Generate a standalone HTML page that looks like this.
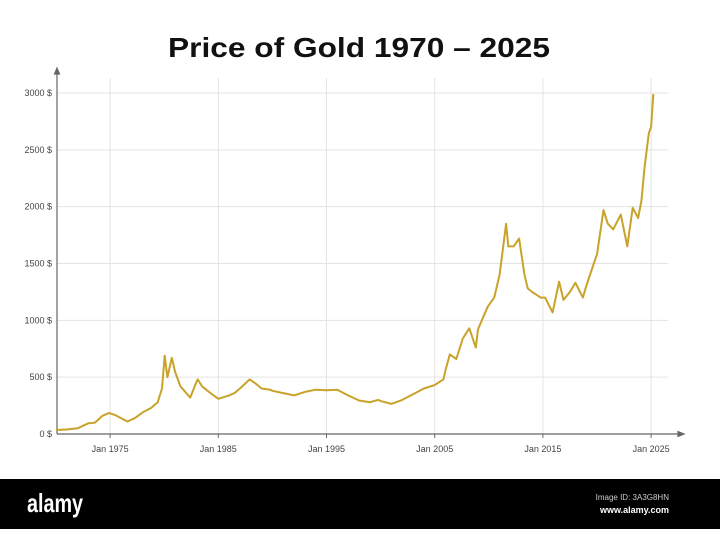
<!DOCTYPE html>
<html><head><meta charset="utf-8"><style>
body{margin:0;width:720px;height:529px;background:#fff;overflow:hidden;font-family:"Liberation Sans",sans-serif}
</style></head><body>
<svg id="chart" width="720" height="529" xmlns="http://www.w3.org/2000/svg">
<text x="359" y="57" text-anchor="middle" font-size="28" font-weight="bold" fill="#111" textLength="382" lengthAdjust="spacingAndGlyphs">Price of Gold 1970 – 2025</text>
<g id="grid"></g><g id="axes"></g><g id="series"></g>
<rect x="0" y="479" width="720" height="50" fill="#000"/>
<text x="27" y="512" font-size="26" font-weight="bold" fill="#fff" textLength="56" lengthAdjust="spacingAndGlyphs">alamy</text>
<text x="669" y="500" text-anchor="end" font-size="8" fill="#ccc">Image ID: 3A3G8HN</text>
<text x="669" y="513" text-anchor="end" font-size="9" font-weight="bold" fill="#fff">www.alamy.com</text>
</svg>
<script>
const years=[1970,1971,1972,1973,1973.6,1974.3,1974.9,1975.5,1976.6,1977.3,1978,1978.8,1979.4,1979.8,1980.05,1980.3,1980.7,1981,1981.5,1982.4,1982.9,1983.1,1983.5,1984,1985,1986,1986.5,1987,1987.9,1988.5,1989,1989.8,1990,1991,1992,1993,1994,1995,1996,1997,1998,1999,1999.8,2000,2001,2002,2003,2004,2005,2005.8,2006,2006.4,2007,2007.6,2008.2,2008.8,2009,2009.9,2010.5,2011,2011.6,2011.8,2012.3,2012.8,2013.3,2013.6,2014,2014.8,2015.2,2015.9,2016.5,2016.9,2017.5,2018,2018.7,2019,2019.7,2020,2020.6,2021,2021.5,2022.2,2022.8,2023.3,2023.8,2024.1,2024.4,2024.8,2025,2025.2];
const prices=[35,40,50,95,100,160,185,165,110,140,190,230,280,400,690,500,670,550,420,320,440,480,420,380,310,340,360,400,480,440,400,390,380,360,340,370,390,385,390,340,295,280,300,290,265,300,350,400,430,480,560,700,660,840,930,760,920,1120,1200,1400,1850,1650,1650,1720,1400,1280,1250,1200,1200,1070,1340,1180,1250,1330,1200,1300,1500,1580,1970,1850,1800,1930,1650,1990,1900,2050,2350,2650,2700,2990];
const yTicks=[0,500,1000,1500,2000,2500,3000];
const xTicks=[1975,1985,1995,2005,2015,2025];
const NS="http://www.w3.org/2000/svg";
function xs(y){return 56+(y-1970)*10.82;}
function ys(v){return 434-v*0.11367;}
function mk(p,t,a){const e=document.createElementNS(NS,t);for(const k in a)e.setAttribute(k,a[k]);document.getElementById(p).appendChild(e);return e;}
yTicks.forEach(v=>{
 if(v>0){const l=mk('grid','line',{x1:57,x2:668,y1:ys(v),y2:ys(v),stroke:'#e3e3e3','stroke-width':1});
 
 }
 const t=mk('axes','text',{x:52,y:ys(v)+3,'text-anchor':'end','font-size':9,fill:'#444'});
 
 
 t.textContent=v+' $';
});
xTicks.forEach(y=>{
 const l=mk('grid','line',{x1:xs(y),x2:xs(y),y1:78,y2:434,stroke:'#e3e3e3','stroke-width':1});
 
 
 const k=mk('axes','line',{x1:xs(y),x2:xs(y),y1:434,y2:438,stroke:'#666'});
 
 
 const t=mk('axes','text',{x:xs(y),y:452,'text-anchor':'middle','font-size':9,fill:'#444'});
 
 
 t.textContent='Jan '+y;
});
const ya=mk('axes','path',{d:'M57,434 V70 M54.5,74 L57,68 L59.5,74 Z',stroke:'#666',fill:'#666','stroke-width':1.2});


const xa=mk('axes','path',{d:'M57,434 H682 M678,431.5 L684,434 L678,436.5 Z',stroke:'#666',fill:'#666','stroke-width':1.2});


const d=years.map((y,i)=>(i?'L':'M')+xs(y).toFixed(1)+','+ys(prices[i]).toFixed(1)).join(' ');
const line=mk('series','path',{d:d,fill:'none',stroke:'#c9a22a','stroke-width':2,'stroke-linejoin':'round'});


</script>
</body></html>
